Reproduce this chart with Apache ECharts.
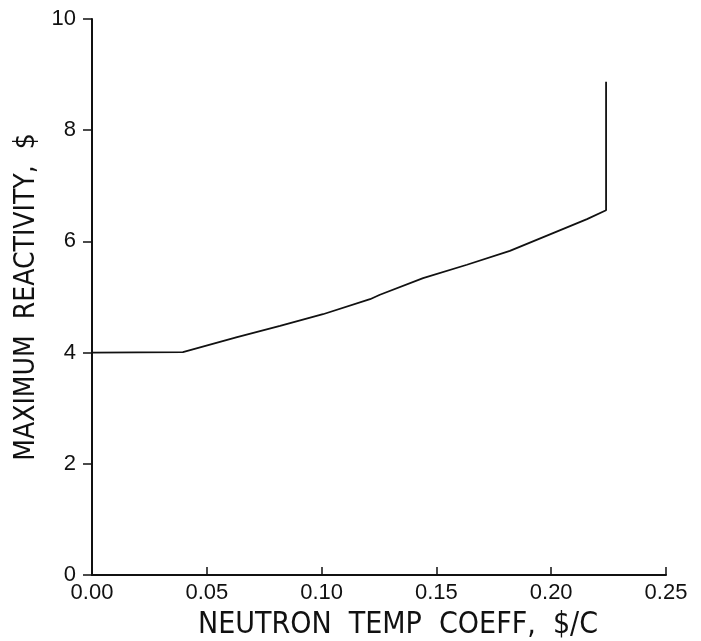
<!DOCTYPE html>
<html>
<head>
<meta charset="utf-8">
<script src="https://cdn.jsdelivr.net/npm/echarts@6/dist/echarts.min.js"></script>
<style>
  html, body { margin: 0; padding: 0; background: #fff; }
  #chart { width: 701px; height: 641px; }
</style>
</head>
<body>
<div id="chart"></div>
<script>
// temp coeff ($/C) vs max reactivity ($)
const coeff = [0.0, 0.0396, 0.0632, 0.0819, 0.1006, 0.1211, 0.1254, 0.1442, 0.1633, 0.182, 0.2008, 0.2156, 0.2239, 0.2239];
const reactivity = [4.0, 4.01, 4.28, 4.48, 4.69, 4.96, 5.04, 5.34, 5.58, 5.83, 6.15, 6.40, 6.56, 8.87];
const xTicks = ['0.00', '0.05', '0.10', '0.15', '0.20', '0.25'];

const points = coeff.map((c, i) => [c, reactivity[i]]);

const myChart = echarts.init(document.querySelector('#chart'));

const narrow = "'Liberation Sans Narrow', 'DejaVu Sans Condensed', 'Liberation Sans', sans-serif";
const font = "'Liberation Sans', Arial, sans-serif";

const option = {
  animation: false,
  backgroundColor: '#fff',
  grid: { left: 92, right: 35, top: 19, bottom: 66, outerBoundsMode: 'none', containLabel: false },
  xAxis: {
    type: 'value',
    min: 0,
    max: 0.25,
    interval: 0.05,
    name: 'NEUTRON  TEMP  COEFF,  $/C',
    nameLocation: 'middle',
    nameGap: 35,
    nameTextStyle: { color: '#111', fontSize: 30, fontFamily: narrow, padding: [0, 0, 0, 38] },
    axisLine: { lineStyle: { color: '#111', width: 2 } },
    axisTick: { inside: true, length: 8, lineStyle: { color: '#111', width: 1.5 } },
    axisLabel: {
      color: '#111', fontSize: 22, fontFamily: font, margin: 7,
      formatter: v => xTicks[Math.round(v / 0.05)]
    },
    splitLine: { show: false }
  },
  yAxis: {
    type: 'value',
    min: 0,
    max: 10,
    interval: 2,
    name: 'MAXIMUM  REACTIVITY,  $',
    nameLocation: 'middle',
    nameGap: 48,
    nameTextStyle: { color: '#111', fontSize: 28, fontFamily: narrow },
    axisLine: { lineStyle: { color: '#111', width: 2 } },
    axisTick: { length: 9, lineStyle: { color: '#111', width: 1.5 } },
    axisLabel: { color: '#111', fontSize: 22, fontFamily: font, margin: 16 },
    splitLine: { show: false }
  },
  series: [
    {
      type: 'line',
      data: points,
      smooth: false,
      showSymbol: false,
      lineStyle: { color: '#111', width: 1.8 }
    }
  ]
};

myChart.setOption(option);
</script>
</body>
</html>
